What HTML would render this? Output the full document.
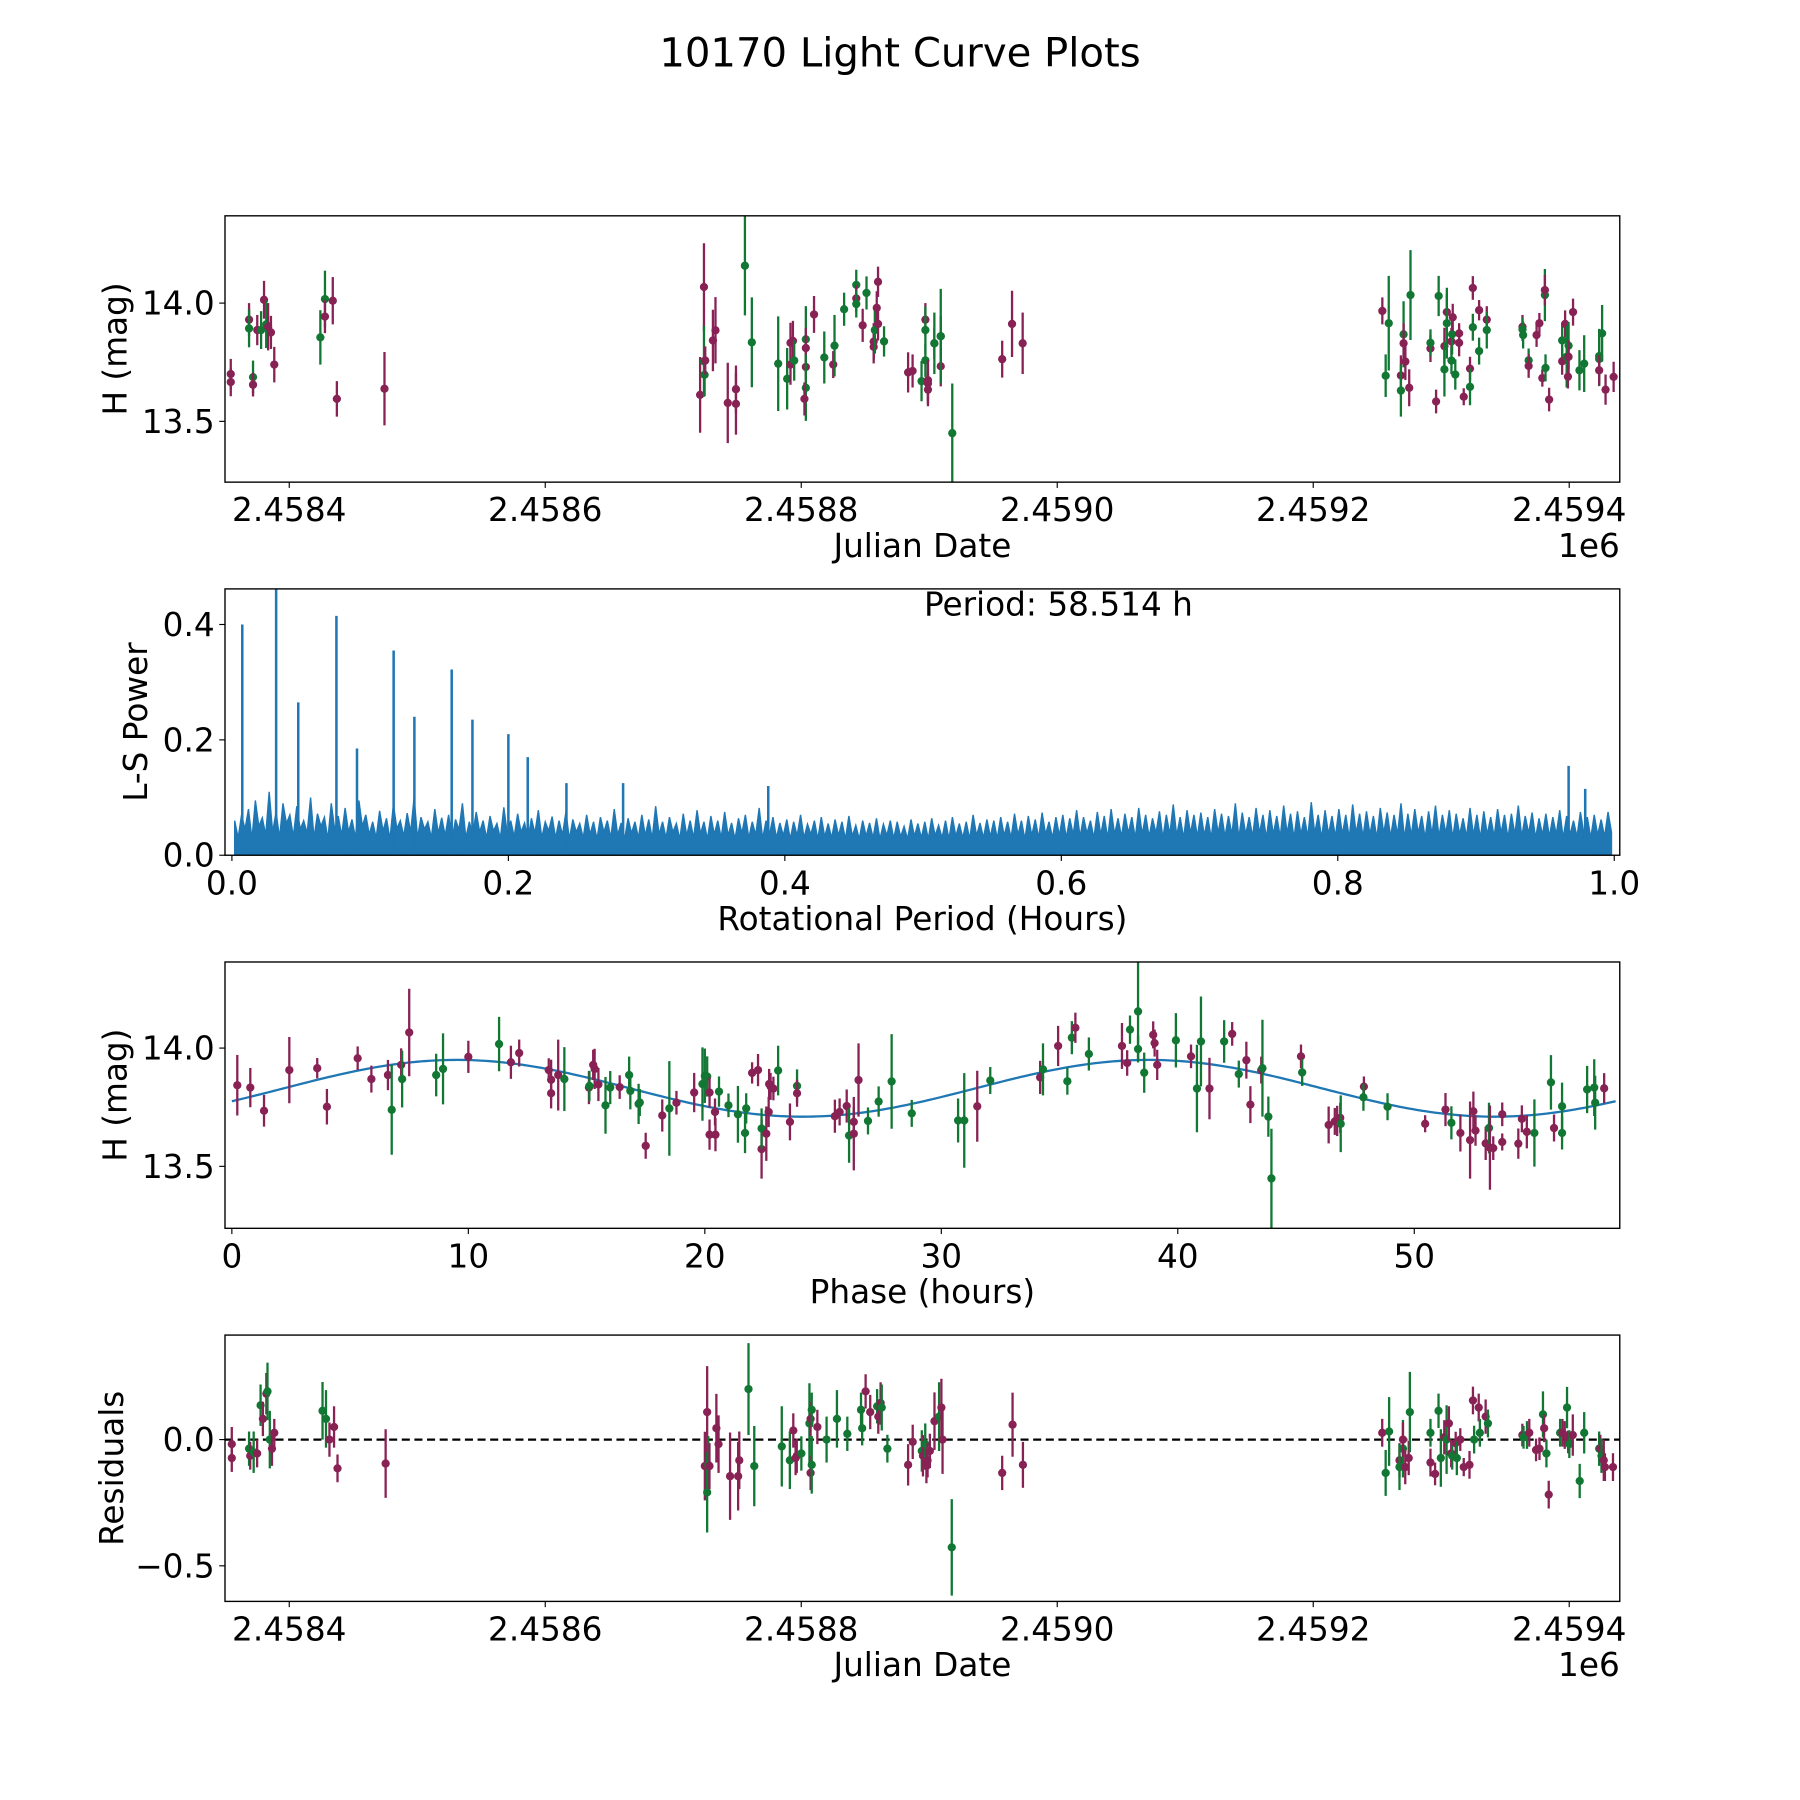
<!DOCTYPE html>
<html><head><meta charset="utf-8"><title>10170 Light Curve Plots</title>
<style>html,body{margin:0;padding:0;background:#fff}svg{display:block}text{font-family:"DejaVu Sans","Liberation Sans",sans-serif;fill:#000}</style>
</head><body>
<svg id="fig" xmlns="http://www.w3.org/2000/svg" width="1800" height="1800" viewBox="0 0 1568 1568">
<rect width="1568" height="1568" fill="#fff"/>
<text x="784" y="58" font-size="35" text-anchor="middle">10170 Light Curve Plots</text>
<g id="root"></g>
</svg>
<script>
// ---- Panel 1: light curve (day offset from 2458400) ----
const lcDay=[-45.7,-45.7,-31.4,-31.4,-28.3,-28.3,-25,-22,-19.7,-18,-16.5,-14.3,-11.7,24.3,27.9,27.9,34,37.2,74.4,
321,324,324,324.5,325,331,333,342.6,349,349,356,361.4,382,389,391.6,391.6,393.5,394.5,403.6,403.6,403.6,403.6,402.5,410,418,425,426,433.5,443,443,443,448,451,456.6,456.6,457.5,459,460,460,464.7,
483.5,487,494,497,497,497,499,499,499,504,504,509,509,509,518,557,564.7,573,
854,856.6,859,868.5,868.5,870.6,870.6,872,875,876,891.6,891.6,896,898,902.5,902.5,904.4,904.4,908,908,908.5,909,911,914,914,917.6,922.5,922.5,924.7,924.7,929.6,929.6,935.6,935.6,
963.5,963.5,964,968.3,968.3,974.5,976.7,979,981,981,981.5,984.3,994.5,994.5,996.8,998,999,999.5,999.5,1003,1008,1011.7,1023.4,1023.4,1023.4,1025.7,1028.4,1034.7];
const lcMag=[13.70,13.666,13.93,13.893,13.687,13.655,13.886,13.886,14.014,13.91,13.9,13.876,13.74,13.855,14.017,13.943,14.01,13.595,13.638,
13.612,14.068,13.754,13.697,13.757,13.842,13.885,13.578,13.636,13.574,14.158,13.834,13.744,13.68,13.832,13.74,13.84,13.757,13.847,13.81,13.73,13.642,13.595,13.952,13.77,13.74,13.82,13.974,14.077,14.02,13.996,13.906,14.043,13.837,13.815,13.886,13.98,13.912,14.09,13.838,
13.707,13.713,13.67,13.93,13.886,13.758,13.674,13.66,13.634,13.83,13.83,13.86,13.733,13.86,13.45,13.763,13.912,13.83,
13.967,13.693,13.915,13.694,13.63,13.868,13.83,13.753,13.642,14.034,13.808,13.832,13.584,14.03,13.818,13.72,13.962,13.915,13.838,13.757,13.868,13.94,13.698,13.832,13.872,13.604,13.723,13.646,14.064,13.898,13.97,13.797,13.93,13.886,
13.9,13.889,13.865,13.758,13.734,13.865,13.915,13.683,14.034,14.055,13.726,13.592,13.754,13.842,13.912,13.773,13.689,13.82,13.773,13.962,13.716,13.744,13.776,13.764,13.716,13.872,13.634,13.688];
const lcErr=[.064,.06,.07,.08,.07,.05,.064,.08,.08,.1,.1,.07,.075,.115,.12,.07,.1,.075,.155,
.16,.185,.15,.09,.06,.13,.14,.17,.1,.13,.21,.19,.2,.13,.085,.085,.085,.085,.14,.085,.085,.14,.07,.078,.11,.057,.13,.07,.064,.057,.057,.07,.07,.078,.07,.1,.07,.07,.064,.064,
.085,.07,.085,.07,.1,.07,.085,.085,.07,.064,.13,.085,.085,.2,.21,.078,.14,.13,
.057,.09,.2,.085,.11,.14,.085,.078,.078,.19,.057,.057,.05,.085,.078,.115,.078,.15,.057,.057,.085,.057,.064,.057,.043,.036,.05,.078,.05,.057,.043,.057,.057,.078,
.05,.05,.057,.05,.05,.05,.043,.036,.11,.064,.057,.05,.057,.07,.057,.13,.05,.1,.07,.057,.085,.12,.115,.115,.064,.12,.064,.064];
const lcBand=[0,0,0,1,1,0,0,1,0,1,0,0,0,1,1,0,0,0,0,
0,0,1,1,0,0,0,0,0,0,1,1,1,1,0,0,0,1,1,0,0,1,0,0,1,0,1,1,1,0,1,0,1,0,0,1,0,0,0,1,
0,0,1,0,1,1,0,0,0,0,1,0,0,1,1,0,0,0,
0,1,1,0,1,1,0,0,0,1,0,1,0,1,0,1,0,1,0,1,1,0,1,0,0,0,0,1,0,1,0,1,0,1,
0,1,1,1,0,0,0,0,1,0,1,0,0,1,0,1,0,1,0,0,1,1,1,1,0,1,0,0];
const jdTickVals=[0,200,400,600,800,1000];
const jdTickLabels=["2.4584","2.4586","2.4588","2.4590","2.4592","2.4594"];
const magTickVals=[13.5,14.0];
const magTickLabels=["13.5","14.0"];

// ---- Panel 2: Lomb-Scargle periodogram ----
const lsNoise=[
0.06,0.03,0.07,0.045,0.08,0.028,0.095,0.05,0.065,0.035,0.11,0.04,0.075,0.03,0.09,0.055,0.07,0.032,0.085,0.045,
0.06,0.038,0.1,0.03,0.072,0.05,0.066,0.028,0.09,0.044,0.068,0.034,0.082,0.04,0.062,0.03,0.095,0.05,0.07,0.036,
0.058,0.03,0.077,0.042,0.064,0.028,0.088,0.046,0.06,0.033,0.073,0.04,0.1,0.03,0.066,0.045,0.058,0.03,0.08,0.038,
0.065,0.034,0.07,0.028,0.062,0.044,0.09,0.03,0.058,0.036,0.075,0.04,0.06,0.03,0.068,0.042,0.055,0.029,0.083,0.037,
0.06,0.032,0.072,0.04,0.056,0.028,0.064,0.038,0.078,0.03,0.058,0.042,0.067,0.03,0.06,0.035,0.075,0.028,0.062,0.04,
0.055,0.03,0.07,0.036,0.058,0.028,0.066,0.04,0.06,0.03,0.08,0.035,0.056,0.028,0.064,0.038,0.058,0.03,0.07,0.034,
0.062,0.029,0.085,0.036,0.058,0.03,0.066,0.04,0.055,0.028,0.072,0.034,0.06,0.03,0.078,0.037,0.058,0.028,0.068,0.036,
0.06,0.03,0.075,0.034,0.056,0.028,0.064,0.038,0.07,0.03,0.058,0.035,0.082,0.029,0.06,0.036,0.066,0.03,0.056,0.034,
0.062,0.028,0.058,0.034,0.07,0.03,0.054,0.036,0.06,0.028,0.066,0.032,0.055,0.03,0.062,0.034,0.058,0.028,0.068,0.033,
0.052,0.028,0.06,0.033,0.056,0.03,0.064,0.028,0.054,0.034,0.06,0.029,0.058,0.032,0.05,0.028,0.062,0.033,0.055,0.03,
0.058,0.028,0.064,0.034,0.052,0.03,0.06,0.028,0.066,0.033,0.055,0.03,0.058,0.028,0.07,0.034,0.056,0.03,0.062,0.032,
0.06,0.029,0.066,0.034,0.058,0.03,0.072,0.035,0.06,0.028,0.068,0.034,0.062,0.03,0.074,0.036,0.058,0.03,0.066,0.034,
0.07,0.03,0.064,0.036,0.078,0.032,0.066,0.038,0.06,0.03,0.075,0.035,0.068,0.03,0.08,0.036,0.064,0.032,0.072,0.038,
0.066,0.03,0.082,0.036,0.07,0.032,0.064,0.038,0.076,0.03,0.07,0.036,0.088,0.034,0.066,0.03,0.078,0.038,0.07,0.032,
0.074,0.034,0.066,0.03,0.08,0.038,0.072,0.032,0.068,0.036,0.09,0.03,0.074,0.036,0.066,0.032,0.082,0.038,0.07,0.03,
0.078,0.036,0.068,0.032,0.086,0.038,0.072,0.03,0.076,0.036,0.066,0.032,0.092,0.038,0.07,0.03,0.078,0.036,0.068,0.032,
0.08,0.036,0.07,0.03,0.088,0.038,0.072,0.032,0.076,0.036,0.068,0.03,0.082,0.038,0.074,0.032,0.07,0.036,0.09,0.03,
0.072,0.034,0.08,0.038,0.068,0.03,0.076,0.036,0.086,0.032,0.07,0.038,0.078,0.03,0.072,0.036,0.064,0.032,0.082,0.035,
0.07,0.03,0.076,0.036,0.066,0.032,0.08,0.038,0.07,0.03,0.072,0.036,0.086,0.032,0.068,0.038,0.074,0.03,0.064,0.035,
0.072,0.032,0.066,0.036,0.078,0.03,0.068,0.036,0.06,0.032,0.075,0.038,0.066,0.03,0.07,0.035,0.062,0.032,0.075,0.04];
const lsPeakPeriod=[0.0075,0.032,0.048,0.0756,0.0905,0.117,0.132,0.159,0.174,0.2,0.214,0.242,0.283,0.388,0.967,0.979];
const lsPeakPower=[0.40,0.47,0.265,0.415,0.185,0.355,0.24,0.322,0.235,0.21,0.17,0.125,0.125,0.12,0.155,0.115];
const lsXTicks=[0,0.2,0.4,0.6,0.8,1.0];
const lsXTickLabels=["0.0","0.2","0.4","0.6","0.8","1.0"];
const lsYTicks=[0,0.2,0.4];
const lsYTickLabels=["0.0","0.2","0.4"];
const periodHours=58.514;

// ---- Panel 3: phased light curve ----
const phHour=[.23,.78,1.36,2.43,3.61,4.02,5.32,5.9,6.6,6.76,7.16,7.2,7.5,8.64,8.93,10.0,11.3,11.8,12.15,13.4,13.5,13.5,13.8,14.06,15.1,15.12,15.28,15.34,15.5,15.8,16.0,16.4,16.8,16.85,17.2,17.25,17.5,18.2,18.5,18.8,19.55,19.9,20.0,20.1,20.2,20.2,20.45,20.43,20.6,21.0,21.4,21.7,21.75,22.0,22.25,22.4,22.4,22.6,22.7,22.72,22.78,22.9,23.1,23.6,23.9,23.9,25.5,25.7,26.0,26.1,26.3,26.3,26.5,26.9,27.35,27.9,28.75,
30.71,30.97,31.52,32.07,34.18,34.3,34.94,35.33,35.52,35.67,36.24,37.64,37.86,37.98,38.32,38.32,38.58,38.96,39.02,39.13,39.92,40.56,40.81,40.98,41.34,41.96,42.3,42.58,42.9,43.07,43.53,43.58,43.83,43.96,45.21,45.26,46.38,46.64,46.74,46.87,46.89,47.87,47.85,48.87,50.46,51.32,51.57,51.95,52.36,52.5,52.59,53.02,53.16,53.2,53.34,53.72,53.72,54.4,54.55,54.76,55.08,55.78,55.91,56.25,56.25,57.31,57.61,57.65,58.03];
const phMag=[13.843,13.833,13.735,13.907,13.915,13.752,13.957,13.869,13.886,13.739,13.929,13.869,14.066,13.886,13.912,13.963,14.017,13.94,13.979,13.907,13.809,13.866,13.886,13.869,13.833,13.84,13.929,13.912,13.846,13.758,13.833,13.835,13.886,13.819,13.764,13.77,13.587,13.715,13.745,13.769,13.812,13.848,13.883,13.88,13.812,13.634,13.634,13.73,13.816,13.758,13.72,13.641,13.745,13.895,13.907,13.573,13.66,13.638,13.73,13.848,13.838,13.829,13.905,13.688,13.84,13.809,13.712,13.73,13.755,13.63,13.688,13.638,13.865,13.692,13.774,13.859,13.724,
13.694,13.694,13.754,13.863,13.876,13.91,14.009,13.86,14.044,14.086,13.975,14.009,13.937,14.078,14.155,13.996,13.896,14.056,14.021,13.929,14.033,13.965,13.829,14.028,13.829,14.028,14.06,13.89,13.949,13.761,13.907,13.915,13.71,13.449,13.965,13.897,13.675,13.69,13.692,13.705,13.68,13.837,13.792,13.752,13.68,13.74,13.684,13.641,13.611,13.733,13.651,13.597,13.662,13.579,13.577,13.603,13.72,13.596,13.701,13.646,13.641,13.855,13.662,13.754,13.641,13.825,13.833,13.769,13.83];
const phErr=[.128,.083,.067,.14,.043,.075,.05,.057,.064,.19,.07,.12,.185,.09,.15,.068,.115,.07,.057,.05,.064,.085,.15,.135,.07,.064,.064,.085,.07,.12,.07,.05,.078,.078,.085,.057,.055,.068,.2,.05,.083,.155,.115,.085,.064,.064,.07,.057,.064,.05,.12,.085,.064,.045,.068,.125,.085,.115,.064,.064,.057,.05,.105,.078,.07,.057,.07,.057,.07,.115,.064,.155,.155,.057,.064,.2,.057,
.093,.2,.15,.057,.07,.11,.085,.057,.07,.064,.07,.097,.054,.06,.21,.057,.085,.057,.057,.064,.115,.05,.185,.19,.13,.09,.05,.057,.078,.078,.057,.205,.085,.21,.05,.057,.078,.057,.064,.064,.12,.043,.057,.057,.036,.07,.07,.078,.163,.083,.064,.07,.107,.178,.05,.036,.05,.064,.057,.07,.142,.115,.057,.1,.07,.1,.12,.114,.064];
const phBand=[0,0,0,0,0,0,0,0,0,1,0,1,0,1,1,0,1,0,0,0,0,0,0,1,0,1,0,0,0,1,1,0,1,1,1,1,0,0,1,0,0,1,1,1,0,0,0,0,1,1,1,1,1,0,0,0,1,0,0,0,0,0,1,0,1,0,0,0,0,1,0,0,0,1,1,1,1,
1,1,0,1,0,1,0,1,1,0,1,0,0,1,1,1,1,0,0,0,1,0,1,1,0,1,0,1,0,0,0,1,1,1,0,1,0,0,0,0,1,0,1,1,0,0,1,0,0,0,0,0,1,0,0,0,0,0,0,0,1,1,0,1,1,1,1,1,0];
const phTicks=[0,10,20,30,40,50];
const phTickLabels=["0","10","20","30","40","50"];
const modelMean=13.83, modelAmp=0.12, modelZero=2.2;

// ---- Panel 4: residuals ----
const resDay=[-44.9,-44.9,-31.4,-30.5,-27.8,-25.1,-22.4,-20.6,-17.9,-17.0,-15.2,-13.5,-11.7,26.0,28.7,31.4,35.0,37.7,75.3,
324.7,326.5,326.5,327.4,328.3,333.7,335.4,344.4,350.7,351.6,358.8,363.3,384.8,391.1,393.8,395.6,396.5,400.1,406.4,407.3,407.3,408.2,408.2,412.6,419.8,427.9,436.0,446.7,447.6,450.3,453.9,459.3,460.2,462.0,462.0,462.9,467.3,483.5,487.1,494.2,495.1,496.9,497.8,498.7,500.5,504.1,507.7,509.5,510.4,517.6,557.0,565.1,573.2,
853.9,856.6,859.3,867.4,867.4,870.1,870.1,871.9,874.6,875.5,891.6,891.6,895.2,897.9,899.7,902.4,904.2,906.0,907.8,908.6,911.3,912.2,914.9,917.6,922.1,924.8,925.7,929.3,930.2,934.7,936.5,963.4,964.3,967.0,968.8,974.1,976.8,979.5,980.4,982.2,984.0,992.9,994.7,996.5,998.3,999.2,1000.1,1002.8,1008.2,1011.7,1023.4,1024.3,1025.2,1027.0,1027.9,1034.2];
const resVal=[-.018,-.073,-.036,-.064,-.05,-.055,.136,.082,.182,.191,0,-.036,.027,.114,.082,0,.05,-.114,-.095,
-.105,.109,-.209,-.1,-.105,.045,-.018,-.145,-.145,-.082,.2,-.105,-.027,-.082,.036,-.073,-.064,-.055,.064,.082,-.132,.118,-.1,.05,0,.082,.023,.118,.045,.191,.109,.132,.091,.145,.127,.127,-.036,-.1,-.009,-.045,-.064,-.018,-.105,-.082,-.045,.073,.091,.127,0,-.427,-.132,.059,-.1,
.027,-.132,.032,-.082,-.109,-.036,0,-.109,-.073,.109,-.091,.027,-.136,.114,-.073,.009,0,.064,-.055,-.064,-.014,-.073,0,-.109,-.1,.155,0,.127,.027,.091,.064,.018,.009,.018,.027,-.041,-.036,.1,.045,-.055,-.218,.027,.027,.018,.127,-.009,-.018,.018,-.164,.027,-.036,-.036,-.064,-.082,-.109,-.109];
const resErr=[.068,.055,.068,.055,.082,.055,.082,.068,.082,.114,.114,.068,.055,.114,.114,.068,.082,.055,.136,
.136,.182,.159,.114,.091,.136,.114,.173,.136,.114,.182,.159,.159,.114,.068,.068,.068,.068,.159,.068,.068,.068,.114,.068,.091,.114,.068,.068,.068,.068,.068,.068,.068,.082,.068,.091,.055,.082,.068,.082,.082,.082,.068,.068,.068,.114,.136,.114,.136,.191,.068,.127,.091,
.055,.091,.136,.068,.091,.114,.068,.068,.068,.159,.055,.055,.045,.068,.114,.068,.136,.068,.055,.055,.045,.068,.045,.036,.055,.055,.055,.055,.055,.068,.055,.045,.045,.055,.055,.045,.045,.091,.055,.055,.055,.055,.055,.055,.082,.045,.055,.082,.068,.082,.068,.055,.068,.082,.055,.055];
const resBand=[0,0,1,0,1,0,1,0,0,1,1,0,0,1,1,0,0,0,0,
0,0,1,1,0,0,0,0,0,0,1,1,1,1,0,0,0,1,1,0,0,1,1,0,1,1,1,1,1,0,0,1,0,0,0,1,1,0,0,1,0,1,0,0,0,0,1,0,0,1,0,0,0,
0,1,1,0,1,1,0,0,0,1,0,1,0,1,1,0,1,0,0,1,0,1,0,0,0,0,1,0,1,0,1,0,1,1,0,0,0,1,0,1,0,1,0,0,1,0,1,0,1,1,1,0,1,0,0];
const resTickVals=[-0.5,0];
const resTickLabels=["\u22120.5","0.0"];

const NS="http://www.w3.org/2000/svg";
const root=document.getElementById('root');
const PURPLE="#882255",GREEN="#117733",BLUE="#1f77b4";
const FS=28.5;
function el(tag,attrs,parent,txt){const e=document.createElementNS(NS,tag);for(const k in attrs)e.setAttribute(k,attrs[k]);if(txt!==undefined)e.textContent=txt;(parent||root).appendChild(e);return e;}
function makeAxes(o){
  const g=el('g',{});
  
  
  o.g=g;
  o.sx=v=>o.x0+(v-o.xmin)/(o.xmax-o.xmin)*(o.x1-o.x0);
  o.sy=v=>o.y1-(v-o.ymin)/(o.ymax-o.ymin)*(o.y1-o.y0);
  const clipId='clip-'+o.name;
  const cp=el('clipPath',{id:clipId},g);el('rect',{x:o.x0,y:o.y0,width:o.x1-o.x0,height:o.y1-o.y0},cp);
  o.plot=el('g',{'clip-path':'url(#'+clipId+')'},g);
  
  
  return o;
}
function finishAxes(o){
  const g=o.g;
  const frame=el('rect',{x:o.x0,y:o.y0,width:o.x1-o.x0,height:o.y1-o.y0,fill:'none',stroke:'#000','stroke-width':1.2},g);
  
  
  o.xt.forEach((v,i)=>{const x=o.sx(v);
    el('line',{x1:x,x2:x,y1:o.y1,y2:o.y1+5,stroke:'#000','stroke-width':1},g);
    const t=el('text',{x:x,y:o.y1+34,'font-size':FS,'text-anchor':'middle'},g,o.xl[i]);
    
    });
  o.yt.forEach((v,i)=>{const y=o.sy(v);
    el('line',{x1:o.x0-5,x2:o.x0,y1:y,y2:y,stroke:'#000','stroke-width':1},g);
    const t=el('text',{x:o.x0-9,y:y+10,'font-size':FS,'text-anchor':'end'},g,o.yl[i]);
    
    });
  const xt=el('text',{x:(o.x0+o.x1)/2,y:o.y1+65,'font-size':FS,'text-anchor':'middle'},g,o.xlabel);
  
  
  const yt=el('text',{x:0,y:0,'font-size':FS,'text-anchor':'middle',transform:'translate('+o.ylx+','+((o.y0+o.y1)/2)+') rotate(-90)'},g,o.ylabel);
  
  
  if(o.offset){const ot=el('text',{x:o.x1,y:o.y1+65,'font-size':FS,'text-anchor':'end'},g,o.offset);
    
    }
}
function errPoints(ax,xs,ys,es,bs,prefix){
  xs.forEach((xv,i)=>{const x=ax.sx(xv),c=bs[i]?GREEN:PURPLE;
    const gp=el('g',{},ax.plot);
    
    
    el('line',{x1:x,x2:x,y1:ax.sy(ys[i]-es[i]),y2:ax.sy(ys[i]+es[i]),stroke:c,'stroke-width':2},gp);
    el('circle',{cx:x,cy:ax.sy(ys[i]),r:3.6,fill:c},gp);});
}
const jdMin=-50.2,jdMax=1039.5;
// Panel 1
const a1=makeAxes({name:'lightcurve-panel',x0:196,x1:1411,y0:188,y1:420,xmin:jdMin,xmax:jdMax,ymin:13.243,ymax:14.369,
  xt:jdTickVals,xl:jdTickLabels,yt:magTickVals,yl:magTickLabels,xlabel:'Julian Date',ylabel:'H (mag)',ylx:110,offset:'1e6'});
errPoints(a1,lcDay,lcMag,lcErr,lcBand,'lightcurve');
finishAxes(a1);
// Panel 2
const a2=makeAxes({name:'periodogram-panel',x0:196,x1:1411,y0:513,y1:745,xmin:-0.005,xmax:1.004,ymin:0,ymax:0.4617,
  xt:lsXTicks,xl:lsXTickLabels,yt:lsYTicks,yl:lsYTickLabels,xlabel:'Rotational Period (Hours)',ylabel:'L-S Power',ylx:128});
{const N=lsNoise.length;let pts=a2.sx(0.002)+','+a2.sy(0)+' ';
 lsNoise.forEach((v,i)=>{pts+=a2.sx(0.002+i/(N-1)*0.996).toFixed(2)+','+a2.sy(v).toFixed(2)+' ';});
 pts+=a2.sx(0.998)+','+a2.sy(0);
 const poly=el('polygon',{points:pts,fill:BLUE,stroke:BLUE,'stroke-width':1.2,'stroke-linejoin':'miter'},a2.plot);
 
 
 lsPeakPeriod.forEach((p,i)=>{const x=a2.sx(p);
   const ln=el('line',{x1:x,x2:x,y1:a2.sy(0),y2:a2.sy(lsPeakPower[i]),stroke:BLUE,'stroke-width':2.2},a2.plot);
   
   });}
finishAxes(a2);
const pt=el('text',{x:922,y:536,'font-size':FS,'text-anchor':'middle'});
pt.textContent='Period: '+periodHours.toFixed(3)+' h';


// Panel 3
const a3=makeAxes({name:'phase-panel',x0:196,x1:1411,y0:838,y1:1070,xmin:-0.29,xmax:58.69,ymin:13.238,ymax:14.364,
  xt:phTicks,xl:phTickLabels,yt:magTickVals,yl:magTickLabels,xlabel:'Phase (hours)',ylabel:'H (mag)',ylx:110});
{let d='';for(let k=0;k<=300;k++){const t=k/300*periodHours;const m=modelMean+modelAmp*Math.sin(2*Math.PI*(t-modelZero)/(periodHours/2));
  d+=(k?'L':'M')+a3.sx(t).toFixed(2)+','+a3.sy(m).toFixed(2);}
 const fit=el('path',{d:d,fill:'none',stroke:BLUE,'stroke-width':2},a3.plot);
 
 }
errPoints(a3,phHour,phMag,phErr,phBand,'phase');
finishAxes(a3);
// Panel 4
const a4=makeAxes({name:'residuals-panel',x0:196,x1:1411,y0:1163,y1:1395,xmin:jdMin,xmax:jdMax,ymin:-0.641,ymax:0.414,
  xt:jdTickVals,xl:jdTickLabels,yt:resTickVals,yl:resTickLabels,xlabel:'Julian Date',ylabel:'Residuals',ylx:107,offset:'1e6'});
{const zl=el('line',{x1:196,x2:1411,y1:a4.sy(0),y2:a4.sy(0),stroke:'#000','stroke-width':2,'stroke-dasharray':'7,4'},a4.plot);
 
 }
errPoints(a4,resDay,resVal,resErr,resBand,'residual');
finishAxes(a4);
</script>
</body></html>
